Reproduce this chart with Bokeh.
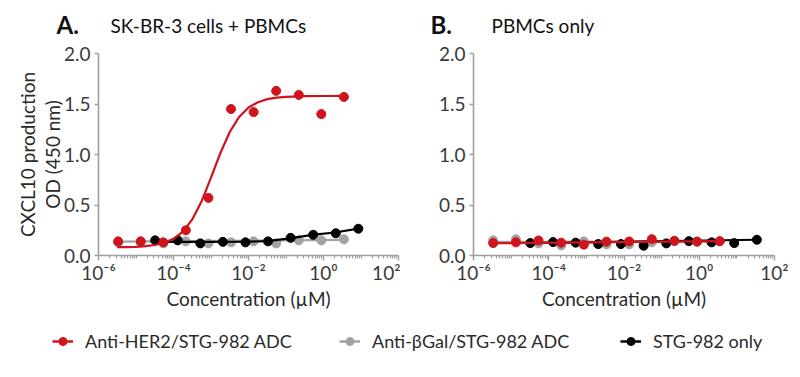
from bokeh.plotting import figure
from bokeh.models import (Range1d, Label, Legend, LegendItem, FixedTicker,
                          CustomJSTickFormatter, PrintfTickFormatter, ColumnDataSource)
from bokeh.layouts import row, column
from bokeh.embed import file_html
from bokeh.resources import INLINE

# ---------------- data ----------------
# concentrations (uM), 4-fold dilution series
conc_adc = [3.34e-6, 1.34e-5, 5.34e-5, 2.14e-4, 8.55e-4, 3.42e-3, 1.37e-2, 5.47e-2, 0.219, 0.875, 3.5]
conc_free_a = [3.24e-5, 1.30e-4, 5.19e-4, 2.07e-3, 8.30e-3, 3.32e-2, 0.133, 0.531, 2.13, 8.5]
conc_free_b = [3.24e-5, 1.30e-4, 5.19e-4, 2.07e-3, 8.30e-3, 3.32e-2, 0.133, 0.531, 2.13, 8.5, 34.0]

# Panel A: SK-BR-3 cells + PBMCs
a_her2 = [0.14, 0.14, 0.13, 0.25, 0.57, 1.45, 1.42, 1.63, 1.59, 1.40, 1.57]
a_bgal = [0.13, 0.13, 0.12, 0.14, 0.12, 0.13, 0.14, 0.12, 0.15, 0.15, 0.16]
a_free = [0.15, 0.15, 0.12, 0.135, 0.13, 0.14, 0.175, 0.205, 0.22, 0.265]

# Panel B: PBMCs only
b_her2 = [0.123, 0.130, 0.149, 0.127, 0.107, 0.137, 0.139, 0.162, 0.146, 0.137, 0.142]
b_bgal = [0.15, 0.16, 0.12, 0.10, 0.14, 0.11, 0.11, 0.13, 0.14, 0.14, 0.14]
b_free = [0.123, 0.133, 0.127, 0.113, 0.113, 0.097, 0.120, 0.142, 0.130, 0.123, 0.156]

# fitted curves (log10 of concentration, OD)
fit_a_her2_log = [-5.5, -5.25, -5.0, -4.75, -4.5, -4.25, -4.0, -3.75, -3.5, -3.25, -3.0,
                  -2.75, -2.5, -2.25, -2.0, -1.75, -1.5, -1.25, -1.0, -0.5, 0.0, 0.55]
fit_a_her2_od = [0.082, 0.083, 0.086, 0.092, 0.104, 0.125, 0.165, 0.237, 0.357, 0.538, 0.771,
                 1.015, 1.223, 1.372, 1.465, 1.518, 1.548, 1.563, 1.571, 1.578, 1.579, 1.580]
fit_a_bgal_log = [-5.48, 0.55]
fit_a_bgal_od = [0.137, 0.155]
fit_a_free_log = [-4.49, -3.3, -2.1, -1.5, -0.9, -0.3, 0.3, 0.93]
fit_a_free_od = [0.135, 0.135, 0.136, 0.142, 0.170, 0.204, 0.228, 0.266]
fit_b_her2_log = [-5.48, 0.55]
fit_b_her2_od = [0.122, 0.142]
fit_b_bgal_log = [-5.48, 0.55]
fit_b_bgal_od = [0.135, 0.140]
fit_b_free_log = [-4.49, 1.53]
fit_b_free_od = [0.122, 0.156]

series_names = ["Anti-HER2/STG-982 ADC", "Anti-\u03b2Gal/STG-982 ADC", "STG-982 only"]
panel_letters = ["A.", "B."]
panel_titles = ["SK-BR-3 cells + PBMCs", "PBMCs only"]
y_label = "CXCL10 production\nOD (450 nm)"
x_label = "Concentration (\u00b5M)"
y_ticks = [0.0, 0.5, 1.0, 1.5, 2.0]
x_major = [1e-6, 1e-4, 1e-2, 1e0, 1e2]

RED = "#d0141c"
GRAY = "#a3a3a3"
BLACK = "#000000"
AXIS = "#a0a0a0"
FONT = "Lato"

x_minor = [k * 10.0 ** e for e in range(-6, 2) for k in range(1, 10) if not (k == 1 and e % 2 == 0)]

fmt_js = """
const e = Math.round(Math.log10(tick));
const sup = {"-":"\\u207b","0":"\\u2070","1":"\\u00b9","2":"\\u00b2","3":"\\u00b3",
             "4":"\\u2074","5":"\\u2075","6":"\\u2076","7":"\\u2077","8":"\\u2078","9":"\\u2079"};
return "10" + String(e).split("").map(c => sup[c]).join("");
"""

HEADER_H = 40
PANEL_H = 279
LEGEND_H = 53


def make_panel(left, right, with_ylabel):
    p = figure(width=400, height=PANEL_H, x_axis_type="log",
               x_range=Range1d(1e-6, 1e2), y_range=Range1d(0, 2.0),
               output_backend="svg", toolbar_location=None,
               min_border_left=left, min_border_right=right,
               min_border_top=13, min_border_bottom=64)
    p.outline_line_color = None
    p.grid.visible = False

    for ax in (p.xaxis[0], p.yaxis[0]):
        ax.axis_line_color = AXIS
        ax.axis_line_width = 1.6
        ax.major_tick_line_color = AXIS
        ax.minor_tick_line_color = AXIS
        ax.major_tick_line_width = 1.4
        ax.minor_tick_line_width = 1.2
        ax.major_tick_in = 0
        ax.minor_tick_in = 0
        ax.major_label_text_font = FONT
        ax.major_label_text_font_size = "19px"
        ax.major_label_text_color = "#3a3a3a"
        ax.axis_label_text_font = FONT
        ax.axis_label_text_font_style = "normal"
        ax.axis_label_text_font_size = "19px"
        ax.axis_label_text_color = "#2a2a2a"

    xa = p.xaxis[0]
    xa.ticker = FixedTicker(ticks=x_major, minor_ticks=x_minor)
    xa.formatter = CustomJSTickFormatter(code=fmt_js)
    xa.major_tick_out = 5
    xa.minor_tick_out = 3
    xa.major_label_standoff = 0
    xa.axis_label = x_label
    xa.axis_label_standoff = 0

    ya = p.yaxis[0]
    ya.ticker = FixedTicker(ticks=y_ticks, minor_ticks=[])
    ya.formatter = PrintfTickFormatter(format="%.1f")
    ya.major_tick_out = 4
    ya.minor_tick_out = 0
    ya.major_label_standoff = 4
    if with_ylabel:
        ya.axis_label = y_label
        ya.axis_label_standoff = -3
        ya.axis_label_text_line_height = 1.1
    return p


def draw(p, conc, od, fit_log, fit_od, color):
    fx = [10.0 ** v for v in fit_log]
    p.line(fx, fit_od, line_color=color, line_width=2.2)
    p.scatter(conc, od, size=9, fill_color=color, line_color=color)


# header strip with the panel letters and titles (data units = pixels)
pH = figure(width=800, height=HEADER_H, x_range=Range1d(0, 800), y_range=Range1d(HEADER_H, 0),
            output_backend="svg", toolbar_location=None,
            x_axis_location=None, y_axis_location=None,
            min_border_left=0, min_border_right=0, min_border_top=0, min_border_bottom=0)
pH.grid.visible = False
pH.outline_line_color = None
for lx, tx, letter, title in zip([56, 430], [110, 491], panel_letters, panel_titles):
    pH.add_layout(Label(x=lx, y=24, text=letter, text_font=FONT, text_font_size="24px",
                        text_font_style="bold", text_color="#111111",
                        text_baseline="middle", text_align="left"))
    pH.add_layout(Label(x=tx, y=25, text=title, text_font=FONT, text_font_size="19px",
                        text_color="#111111", text_baseline="middle", text_align="left"))

pA = make_panel(98, 2, True)
draw(pA, conc_adc, a_bgal, fit_a_bgal_log, fit_a_bgal_od, GRAY)
draw(pA, conc_free_a, a_free, fit_a_free_log, fit_a_free_od, BLACK)
draw(pA, conc_adc, a_her2, fit_a_her2_log, fit_a_her2_od, RED)

pB = make_panel(73, 26, False)
draw(pB, conc_adc, b_bgal, fit_b_bgal_log, fit_b_bgal_od, GRAY)
draw(pB, conc_free_b, b_free, fit_b_free_log, fit_b_free_od, BLACK)
draw(pB, conc_adc, b_her2, fit_b_her2_log, fit_b_her2_od, RED)

# legend strip
pL = figure(width=800, height=LEGEND_H, x_range=Range1d(0, 1), y_range=Range1d(0, 1),
            output_backend="svg", toolbar_location=None,
            x_axis_location=None, y_axis_location=None,
            min_border_left=0, min_border_right=0, min_border_top=0, min_border_bottom=0)
pL.grid.visible = False
pL.outline_line_color = None
for name, color, lx in zip(series_names, [RED, GRAY, BLACK], [52, 339, 620]):
    src = ColumnDataSource(dict(x=[-10.0], y=[-10.0]))
    r1 = pL.line("x", "y", source=src, line_color=color, line_width=2.5)
    r2 = pL.scatter("x", "y", source=src, size=8, fill_color=color, line_color=color)
    leg = Legend(items=[LegendItem(label=name, renderers=[r1, r2])], location=(lx, 20),
                 glyph_width=21, glyph_height=20, label_standoff=12,
                 padding=0, margin=0, border_line_alpha=0, background_fill_alpha=0,
                 label_text_font=FONT, label_text_font_size="18px", label_text_color="#2a2a2a")
    pL.add_layout(leg)

layout = column(pH, row(pA, pB), pL)
open("out.html", "w").write(file_html(layout, INLINE))
